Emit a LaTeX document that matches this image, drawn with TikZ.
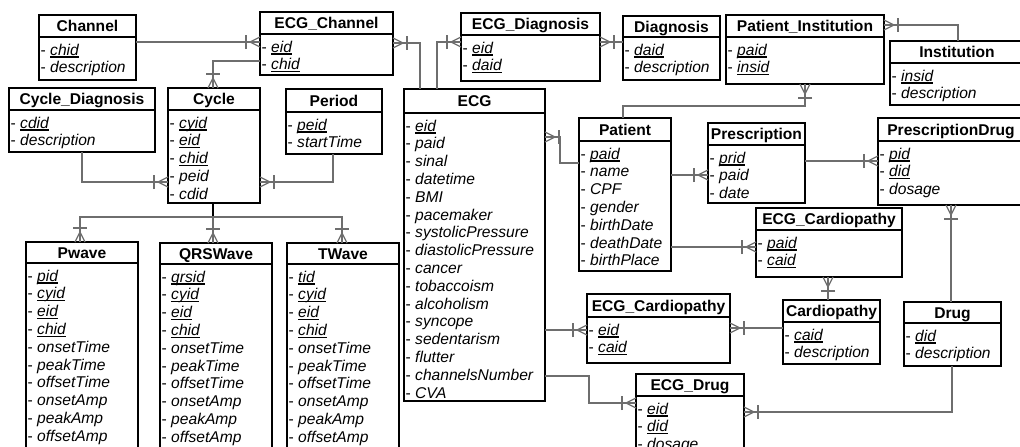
\documentclass[tikz,border=0pt]{standalone}
\usepackage{fontspec}
\setmainfont{Liberation Sans}
\usetikzlibrary{calc}
\definecolor{cgray}{HTML}{6E6E6E}
\newcommand\ku[1]{\setbox0\hbox{\itshape #1}\rlap{\rule[-2.6pt]{\wd0}{1.2pt}}\box0}
\newcommand\kf[1]{\textit{#1}}
% #1 name, #2 x, #3 y, #4 w, #5 h, #6 header height, #7 title, #8 items
\newcommand\ent[8]{%
  \node[ebox, minimum width=#4pt, minimum height=#5pt, anchor=north west] (#1) at (#2,#3) {};
  \node[etitle] (#1-t) at ({#2+#4/2}, {#3+#6/2+5.6}) {#7};
  \draw[esep] (#2,{#3+#6}) -- ({#2+#4},{#3+#6});
  \foreach \xx [count=\n] in {#8} {\node[eitem] (#1-\n) at ({#2+1.5}, {#3+#6+18+(\n-1)*17.8}) {-~\xx};}
}
\begin{document}
\begin{tikzpicture}[x=1pt, y=-1pt,
  ebox/.style={draw=black, line width=1.3pt, inner sep=0pt, outer sep=0pt, fill=white},
  esep/.style={draw=black, line width=1.7pt},
  etitle/.style={anchor=base, inner sep=0pt, font=\fontsize{15.6}{17.8}\selectfont\bfseries},
  eitem/.style={anchor=base west, inner sep=0pt, font=\fontsize{15.6}{17.8}\selectfont},
  conn/.style={draw=cgray, line width=1.8pt},
  crowline/.style={draw=cgray, line width=1.3pt},
  crow/.pic={\draw[crowline] (0,-5)--(10,0)--(0,5); \draw[crowline] (14,-7)--(14,7);}
]
\useasboundingbox (0,0) rectangle (1020,447);
\clip (0,0) rectangle (1020,447);
\fill[white] (0,0) rectangle (1020,447);

% entities
\ent{Channel}{39}{15}{97}{65}{22}{Channel}{\ku{chid},\kf{description}}
\ent{ECGChannel}{260}{12}{133}{63}{22}{ECG\_Channel}{\ku{eid},\ku{chid}}
\ent{CycleDiagnosis}{9}{88}{146}{64}{22}{Cycle\_Diagnosis}{\ku{cdid},\kf{description}}
\ent{Cycle}{168}{88}{92}{115}{22}{Cycle}{\ku{cyid},\ku{eid},\ku{chid},\kf{peid},\kf{cdid}}
\ent{Period}{286}{89}{96}{65}{23}{Period}{\ku{peid},\kf{startTime}}
\ent{Pwave}{26}{242}{112}{230}{21}{Pwave}{\ku{pid},\ku{cyid},\ku{eid},\ku{chid},\kf{onsetTime},\kf{peakTime},\kf{offsetTime},\kf{onsetAmp},\kf{peakAmp},\kf{offsetAmp}}
\ent{QRSWave}{160}{243}{112}{230}{21}{QRSWave}{\ku{qrsid},\ku{cyid},\ku{eid},\ku{chid},\kf{onsetTime},\kf{peakTime},\kf{offsetTime},\kf{onsetAmp},\kf{peakAmp},\kf{offsetAmp}}
\ent{TWave}{287}{243}{112}{230}{21}{TWave}{\ku{tid},\ku{cyid},\ku{eid},\ku{chid},\kf{onsetTime},\kf{peakTime},\kf{offsetTime},\kf{onsetAmp},\kf{peakAmp},\kf{offsetAmp}}
\ent{ECG}{404}{89}{141}{312}{24}{ECG}{\ku{eid},\kf{paid},\kf{sinal},\kf{datetime},\kf{BMI},\kf{pacemaker},\kf{systolicPressure},\kf{diastolicPressure},\kf{cancer},\kf{tobaccoism},\kf{alcoholism},\kf{syncope},\kf{sedentarism},\kf{flutter},\kf{channelsNumber},\kf{CVA}}
\ent{ECGDiagnosis}{461}{13}{139}{68}{22}{ECG\_Diagnosis}{\ku{eid},\ku{daid}}
\ent{Diagnosis}{623}{16}{97}{64}{21}{Diagnosis}{\ku{daid},\kf{description}}
\ent{PatientInstitution}{726}{15}{158}{69}{22}{Patient\_Institution}{\ku{paid},\ku{insid}}
\ent{Institution}{890}{41}{134}{64}{22}{Institution}{\ku{insid},\kf{description}}
\ent{Patient}{579}{118}{92}{153}{23}{Patient}{\ku{paid},\kf{name},\kf{CPF},\kf{gender},\kf{birthDate},\kf{deathDate},\kf{birthPlace}}
\ent{Prescription}{708}{123}{97}{80}{22}{Prescription}{\ku{prid},\kf{paid},\kf{date}}
\ent{PrescriptionDrug}{878}{118}{146}{87}{23}{PrescriptionDrug}{\ku{pid},\ku{did},\kf{dosage}}
\ent{ECGCardA}{756}{208}{146}{69}{22}{ECG\_Cardiopathy}{\ku{paid},\ku{caid}}
\ent{ECGCardB}{587}{294}{143}{69}{23}{ECG\_Cardiopathy}{\ku{eid},\ku{caid}}
\ent{Cardiopathy}{783}{300}{97}{64}{22}{Cardiopathy}{\ku{caid},\kf{description}}
\ent{Drug}{904}{302}{97}{64}{21}{Drug}{\ku{did},\kf{description}}
\ent{ECGDrug}{636}{374}{108}{100}{22}{ECG\_Drug}{\ku{eid},\ku{did},\kf{dosage}}

% connectors
\draw[conn] (Channel.east |- 0,42) -- (ECGChannel.west |- 0,42);
\pic[rotate=180] at (ECGChannel.west |- 0,42) {crow};

\draw[conn] (ECGChannel.east |- 0,43) -| (ECG.north -| 420,0);
\pic at (ECGChannel.east |- 0,43) {crow};

\draw[conn] (ECGChannel.west |- 0,61) -| (Cycle.north -| 213,0);
\pic[rotate=90] at (Cycle.north -| 213,0) {crow};

\draw[conn] (CycleDiagnosis.south -| 82,0) |- (Cycle.west |- 0,182);
\pic[rotate=180] at (Cycle.west |- 0,182) {crow};

\draw[conn] (Period.south -| 333,0) |- (Cycle.east |- 0,182);
\pic at (Cycle.east |- 0,182) {crow};

\coordinate (bus) at (213,217);
\draw[line width=2.4pt] (Cycle.south -| 213,0) -- (bus);
\draw[conn] (bus) -| (Pwave.north -| 80,0);
\draw[conn] (bus) -| (TWave.north -| 342,0);
\draw[conn] (bus) -- (QRSWave.north -| 213,0);
\pic[rotate=90] at (Pwave.north -| 80,0) {crow};
\pic[rotate=90] at (QRSWave.north -| 213,0) {crow};
\pic[rotate=90] at (TWave.north -| 342,0) {crow};

\draw[conn] (ECG.north -| 437,0) |- (ECGDiagnosis.west |- 0,42);
\pic[rotate=180] at (ECGDiagnosis.west |- 0,42) {crow};

\draw[conn] (ECGDiagnosis.east |- 0,42) -- (Diagnosis.west |- 0,42);
\pic at (ECGDiagnosis.east |- 0,42) {crow};

\draw[conn] (PatientInstitution.east |- 0,25) -| (Institution.north -| 958,0);
\pic at (PatientInstitution.east |- 0,25) {crow};

\draw[conn] (PatientInstitution.south -| 805,0) |- (623,106) -- (Patient.north -| 623,0);
\pic[rotate=-90] at (PatientInstitution.south -| 805,0) {crow};

\draw[conn] (ECG.east |- 0,137) -| (560,163) -- (Patient.west |- 0,163);
\pic at (ECG.east |- 0,137) {crow};

\draw[conn] (Patient.east |- 0,175) -- (Prescription.west |- 0,175);
\pic[rotate=180] at (Prescription.west |- 0,175) {crow};

\draw[conn] (Prescription.east |- 0,161) -- (PrescriptionDrug.west |- 0,161);
\pic[rotate=180] at (PrescriptionDrug.west |- 0,161) {crow};

\draw[conn] (PrescriptionDrug.south -| 951,0) -- (Drug.north -| 951,0);
\pic[rotate=-90] at (PrescriptionDrug.south -| 951,0) {crow};

\draw[conn] (Patient.east |- 0,247) -- (ECGCardA.west |- 0,247);
\pic[rotate=180] at (ECGCardA.west |- 0,247) {crow};

\draw[conn] (ECGCardA.south -| 828,0) -- (Cardiopathy.north -| 828,0);
\pic[rotate=-90] at (ECGCardA.south -| 828,0) {crow};

\draw[conn] (ECG.east |- 0,330) -- (ECGCardB.west |- 0,330);
\pic[rotate=180] at (ECGCardB.west |- 0,330) {crow};

\draw[conn] (ECGCardB.east |- 0,328) -- (Cardiopathy.west |- 0,328);
\pic at (ECGCardB.east |- 0,328) {crow};

\draw[conn] (ECG.east |- 0,376) -| (589,403) -- (ECGDrug.west |- 0,403);
\pic[rotate=180] at (ECGDrug.west |- 0,403) {crow};

\draw[conn] (ECGDrug.east |- 0,412) -| (Drug.south -| 952,0);
\pic at (ECGDrug.east |- 0,412) {crow};
\end{tikzpicture}
\end{document}
